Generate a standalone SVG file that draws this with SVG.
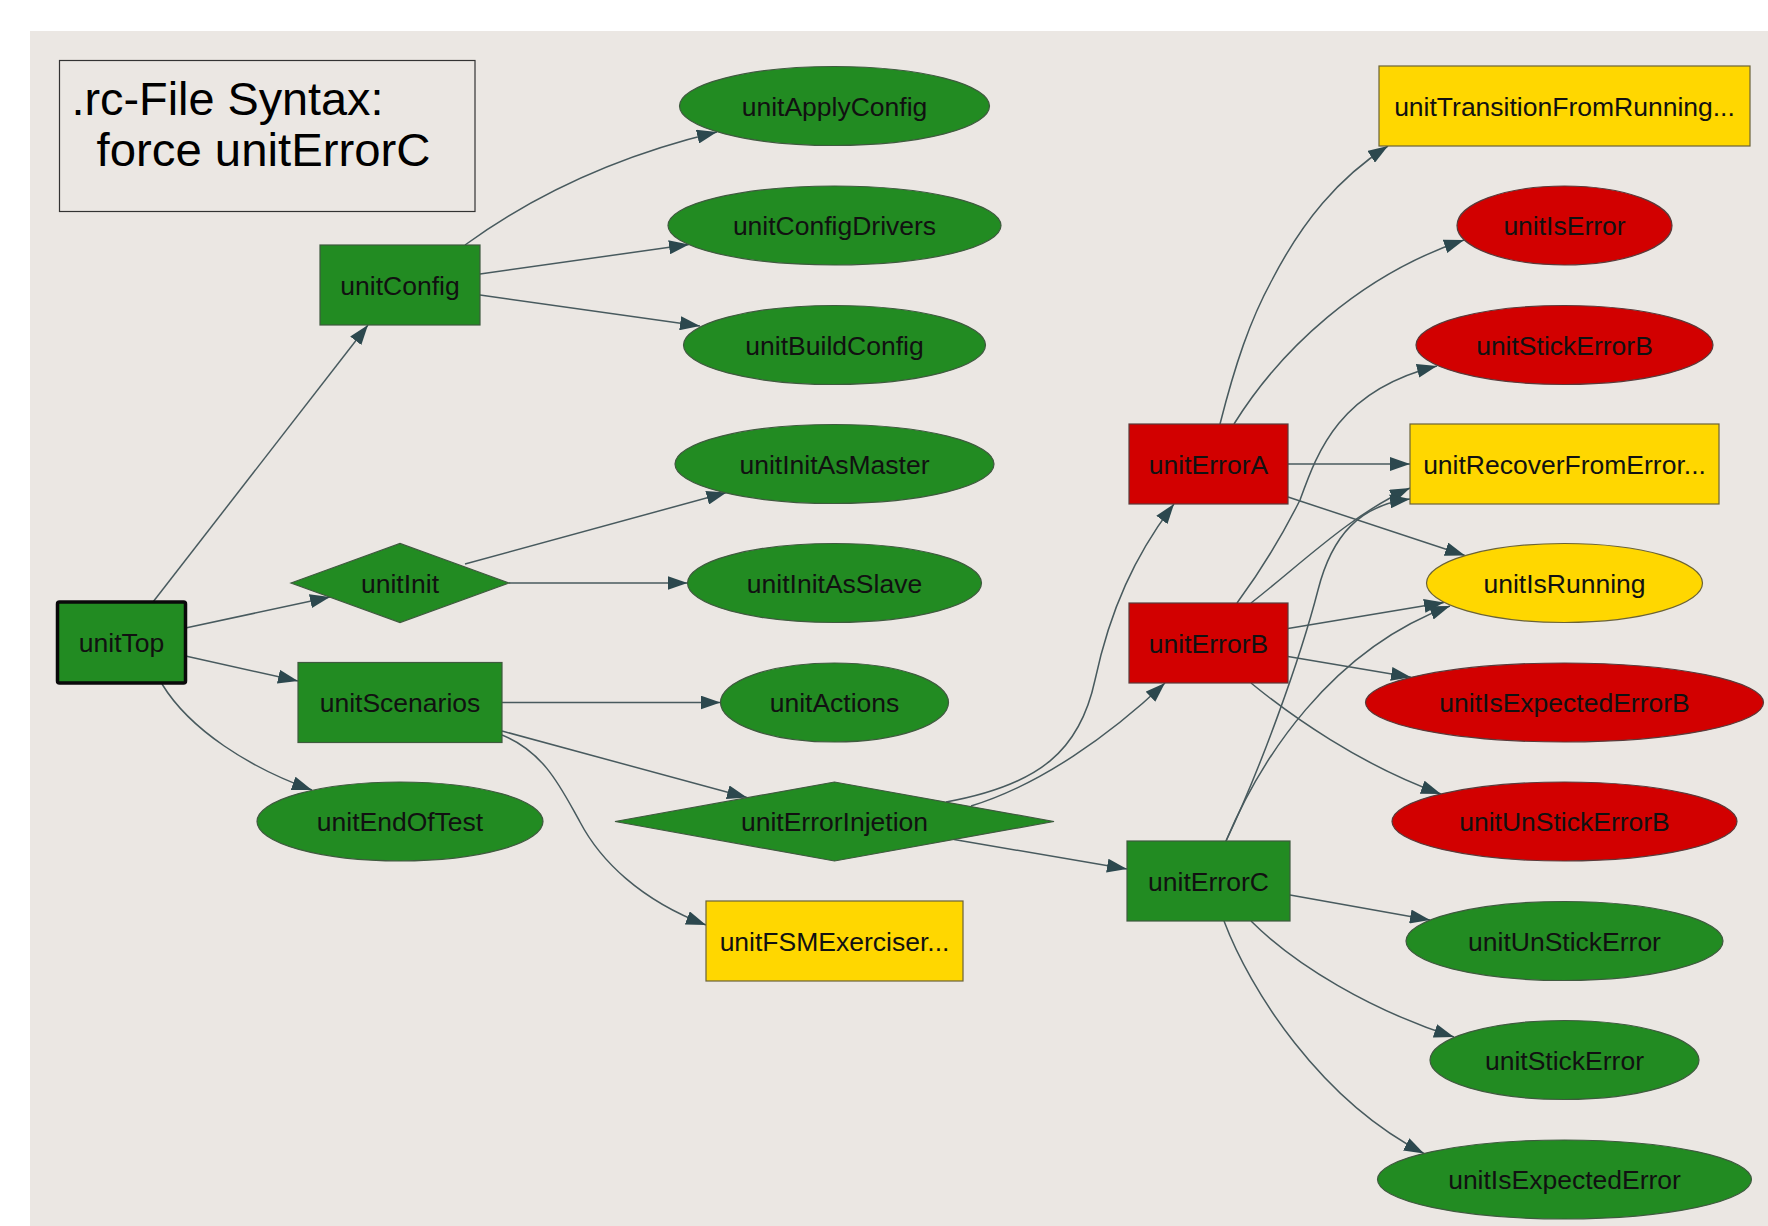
<svg xmlns="http://www.w3.org/2000/svg" width="1768" height="1226" viewBox="0 0 1768 1226">
  <defs>
    <marker id="arrow" markerUnits="userSpaceOnUse" markerWidth="20" markerHeight="14" refX="20" refY="7" orient="auto">
      <path d="M0,0 L20,7 L0,14 Z" fill="#2c484e"/>
    </marker>
    <style>
      .bg { fill: #ebe7e3; }
      .green { fill: #228b22; stroke: #3f5a3f; stroke-width: 1.2; }
      .red { fill: #d20000; stroke: #5a3a3a; stroke-width: 1.2; }
      .gold { fill: #ffd700; stroke: #6b6337; stroke-width: 1.2; }
      .root { fill: #228b22; stroke: #0a0a0a; stroke-width: 3.5; }
      .lbl { font-family: "Liberation Sans", Arial, sans-serif; font-size: 26.5px; fill: #111; text-anchor: middle; }
      .legend { font-family: "Liberation Sans", Arial, sans-serif; font-size: 46px; fill: #000; }
      .edge { fill: none; stroke: #485a5e; stroke-width: 1.5; marker-end: url(#arrow); }
    </style>
  </defs>

  <rect x="0" y="0" width="1768" height="1226" fill="#ffffff"/>
  <rect class="bg" x="30" y="31" width="1738" height="1195"/>

  <!-- legend -->
  <g id="legend">
    <rect x="59.5" y="60.5" width="415.5" height="151" fill="none" stroke="#333" stroke-width="1.2"/>
    <text class="legend" x="71.5" y="115" textLength="312" lengthAdjust="spacingAndGlyphs">.rc-File Syntax:</text>
    <text class="legend" x="96.5" y="166" textLength="334" lengthAdjust="spacingAndGlyphs">force unitErrorC</text>
  </g>

  <!-- connectors -->
  <g id="edges">
    <path class="edge" d="M153,602 L368,325"/>
    <path class="edge" d="M185.5,628 L330,597"/>
    <path class="edge" d="M185.5,656 L298,681"/>
    <path class="edge" d="M162,684 C190,730 250,768 312,790"/>
    <path class="edge" d="M465,245 C520,205 600,160 717,132"/>
    <path class="edge" d="M480,274 L689,244.5"/>
    <path class="edge" d="M480,295 L700,326"/>
    <path class="edge" d="M465,564 L726.5,492.5"/>
    <path class="edge" d="M509,583 L687.5,583"/>
    <path class="edge" d="M502,702.5 L720.5,702.5"/>
    <path class="edge" d="M502,731 L747,797.5"/>
    <path class="edge" d="M502,735 C545,752 562,790 580,822 C600,860 640,900 706,925"/>
    <path class="edge" d="M946,802 C1040,785 1080,750 1095,680 C1110,610 1135,555 1174,504"/>
    <path class="edge" d="M971,806 C1040,785 1110,735 1165,683"/>
    <path class="edge" d="M954,839.5 L1127,869"/>
    <path class="edge" d="M1220,424 C1235,365 1250,320 1272,280 C1302,222 1338,178 1388,146"/>
    <path class="edge" d="M1234,424 C1280,350 1360,275 1464,240"/>
    <path class="edge" d="M1288,464 L1410,464"/>
    <path class="edge" d="M1288,497 L1465,555.5"/>
    <path class="edge" d="M1237,603 C1265,565 1285,530 1300,500 C1318,450 1340,390 1437,366"/>
    <path class="edge" d="M1251,603 C1300,565 1350,515 1410,488"/>
    <path class="edge" d="M1288,628.5 L1444,602.5"/>
    <path class="edge" d="M1288,656.5 L1411,677.3"/>
    <path class="edge" d="M1251,683 C1290,715 1360,765 1441,794"/>
    <path class="edge" d="M1226,841 C1260,770 1300,660 1318,590 C1332,535 1360,505 1410,499"/>
    <path class="edge" d="M1226,841 C1260,760 1330,650 1450,606"/>
    <path class="edge" d="M1290,895 L1430,920"/>
    <path class="edge" d="M1251,921 C1295,965 1370,1010 1454,1037"/>
    <path class="edge" d="M1224,921 C1250,990 1320,1100 1424,1153.5"/>
  </g>

  <!-- column 0 -->
  <g id="unitTop">
    <rect class="root" x="57.5" y="602" width="128" height="81" rx="2"/>
    <text class="lbl" x="121.5" y="652">unitTop</text>
  </g>

  <!-- column 1 -->
  <g id="unitConfig">
    <rect class="green" x="320" y="245" width="160" height="80"/>
    <text class="lbl" x="400" y="294.5">unitConfig</text>
  </g>
  <g id="unitInit">
    <polygon class="green" points="291,583 400,543.5 509,583 400,622.5"/>
    <text class="lbl" x="400" y="592.5">unitInit</text>
  </g>
  <g id="unitScenarios">
    <rect class="green" x="298" y="662.5" width="204" height="80"/>
    <text class="lbl" x="400" y="712">unitScenarios</text>
  </g>
  <g id="unitEndOfTest">
    <ellipse class="green" cx="400" cy="821.5" rx="143" ry="39.5"/>
    <text class="lbl" x="400" y="831">unitEndOfTest</text>
  </g>

  <!-- column 2 -->
  <g id="unitApplyConfig">
    <ellipse class="green" cx="834.5" cy="106" rx="155" ry="39.5"/>
    <text class="lbl" x="834.5" y="115.5">unitApplyConfig</text>
  </g>
  <g id="unitConfigDrivers">
    <ellipse class="green" cx="834.5" cy="225.5" rx="166.5" ry="39.5"/>
    <text class="lbl" x="834.5" y="235">unitConfigDrivers</text>
  </g>
  <g id="unitBuildConfig">
    <ellipse class="green" cx="834.5" cy="345" rx="151" ry="39.5"/>
    <text class="lbl" x="834.5" y="354.5">unitBuildConfig</text>
  </g>
  <g id="unitInitAsMaster">
    <ellipse class="green" cx="834.5" cy="464" rx="159.5" ry="39.5"/>
    <text class="lbl" x="834.5" y="473.5">unitInitAsMaster</text>
  </g>
  <g id="unitInitAsSlave">
    <ellipse class="green" cx="834.5" cy="583" rx="147" ry="39.5"/>
    <text class="lbl" x="834.5" y="592.5">unitInitAsSlave</text>
  </g>
  <g id="unitActions">
    <ellipse class="green" cx="834.5" cy="702.5" rx="114" ry="39.5"/>
    <text class="lbl" x="834.5" y="712">unitActions</text>
  </g>
  <g id="unitErrorInjetion">
    <polygon class="green" points="615,821.5 834.5,782 1054,821.5 834.5,861"/>
    <text class="lbl" x="834.5" y="831">unitErrorInjetion</text>
  </g>
  <g id="unitFSMExerciser">
    <rect class="gold" x="706" y="901" width="257" height="80"/>
    <text class="lbl" x="834.5" y="950.5">unitFSMExerciser...</text>
  </g>

  <!-- column 3 -->
  <g id="unitErrorA">
    <rect class="red" x="1129" y="424" width="159" height="80"/>
    <text class="lbl" x="1208.5" y="473.5">unitErrorA</text>
  </g>
  <g id="unitErrorB">
    <rect class="red" x="1129" y="603" width="159" height="80"/>
    <text class="lbl" x="1208.5" y="652.5">unitErrorB</text>
  </g>
  <g id="unitErrorC">
    <rect class="green" x="1127" y="841" width="163" height="80"/>
    <text class="lbl" x="1208.5" y="890.5">unitErrorC</text>
  </g>

  <!-- column 4 -->
  <g id="unitTransitionFromRunning">
    <rect class="gold" x="1379" y="66" width="371" height="80"/>
    <text class="lbl" x="1564.5" y="115.5">unitTransitionFromRunning...</text>
  </g>
  <g id="unitIsError">
    <ellipse class="red" cx="1564.5" cy="225.5" rx="107.5" ry="39.5"/>
    <text class="lbl" x="1564.5" y="235">unitIsError</text>
  </g>
  <g id="unitStickErrorB">
    <ellipse class="red" cx="1564.5" cy="345" rx="148.5" ry="39.5"/>
    <text class="lbl" x="1564.5" y="354.5">unitStickErrorB</text>
  </g>
  <g id="unitRecoverFromError">
    <rect class="gold" x="1410" y="424" width="309" height="80"/>
    <text class="lbl" x="1564.5" y="473.5">unitRecoverFromError...</text>
  </g>
  <g id="unitIsRunning">
    <ellipse class="gold" cx="1564.5" cy="583" rx="138" ry="39.5"/>
    <text class="lbl" x="1564.5" y="592.5">unitIsRunning</text>
  </g>
  <g id="unitIsExpectedErrorB">
    <ellipse class="red" cx="1564.5" cy="702.5" rx="199" ry="39.5"/>
    <text class="lbl" x="1564.5" y="712">unitIsExpectedErrorB</text>
  </g>
  <g id="unitUnStickErrorB">
    <ellipse class="red" cx="1564.5" cy="821.5" rx="172.5" ry="39.5"/>
    <text class="lbl" x="1564.5" y="831">unitUnStickErrorB</text>
  </g>
  <g id="unitUnStickError">
    <ellipse class="green" cx="1564.5" cy="941" rx="158.5" ry="39.5"/>
    <text class="lbl" x="1564.5" y="950.5">unitUnStickError</text>
  </g>
  <g id="unitStickError">
    <ellipse class="green" cx="1564.5" cy="1060" rx="134.5" ry="39.5"/>
    <text class="lbl" x="1564.5" y="1069.5">unitStickError</text>
  </g>
  <g id="unitIsExpectedError">
    <ellipse class="green" cx="1564.5" cy="1179.5" rx="187" ry="39.5"/>
    <text class="lbl" x="1564.5" y="1189">unitIsExpectedError</text>
  </g>
</svg>
